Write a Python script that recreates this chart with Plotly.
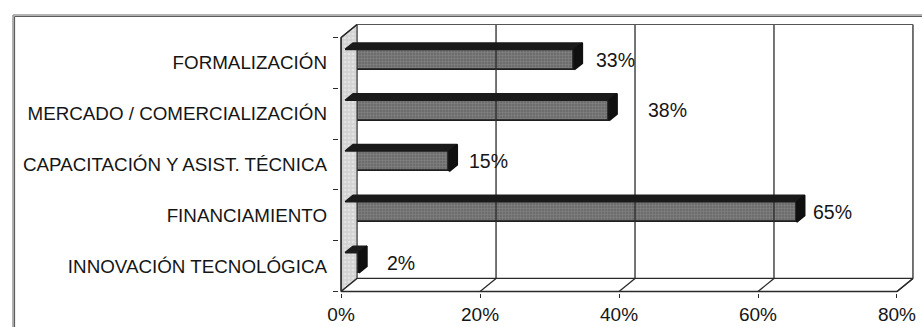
import plotly.graph_objects as go

# Data (bottom to top)
categories = [
    "INNOVACIÓN TECNOLÓGICA",
    "FINANCIAMIENTO",
    "CAPACITACIÓN Y ASIST. TÉCNICA",
    "MERCADO / COMERCIALIZACIÓN",
    "FORMALIZACIÓN",
]
values = [2, 65, 15, 38, 33]
value_labels = ["2%", "65%", "15%", "38%", "33%"]
x_ticks = [0, 20, 40, 60, 80]
x_tick_labels = ["0%", "20%", "40%", "60%", "80%"]

# Extra horizontal nudge (in % units) for each value label, past the bar end
label_nudge = [4.0, 2.3, 2.8, 5.6, 3.1]

# Pseudo-3D geometry in data units
DX, DY = 2.3, 0.256          # depth of the chart box (back wall offset)
BAR_FRONT = 0.25             # fraction of depth where bar front face sits
BAR_BACK = 0.75              # fraction of depth where bar back face sits
BAR_H = 0.40                 # bar thickness in category units
XMAX = 80

LINE = "#2a2a2a"
TEXT = "#151515"
FONT = "Liberation Sans, Arial, sans-serif"

ys = list(range(len(categories)))
fx, fy = DX * BAR_FRONT, DY * BAR_FRONT
bx, by = DX * (BAR_BACK - BAR_FRONT), DY * (BAR_BACK - BAR_FRONT)

fig = go.Figure()


def poly(xs, ys_, fill, line_color=None, width=0, pattern=None):
    kw = dict(
        x=xs + [xs[0]], y=ys_ + [ys_[0]], mode="lines", fill="toself",
        fillcolor=fill, hoverinfo="skip", showlegend=False,
        line=dict(color=line_color or fill, width=width),
    )
    if pattern:
        kw["fillpattern"] = pattern
    fig.add_trace(go.Scatter(**kw))


def seg(x0, y0, x1, y1, color=LINE, width=1.3):
    fig.add_trace(go.Scatter(
        x=[x0, x1], y=[y0, y1], mode="lines", hoverinfo="skip",
        showlegend=False, line=dict(color=color, width=width)))


ybot, ytop = -0.5, len(categories) - 0.5

# Left side wall (textured light gray)
poly([0, DX, DX, 0], [ybot, ybot + DY, ytop + DY, ytop], "#dcdcdc", LINE, 1.2,
     pattern=dict(shape=".", fgcolor="#f4f4f4", bgcolor="#d2d2d2", size=4, solidity=0.35))

# Floor
poly([0, XMAX, XMAX + DX, DX], [ybot, ybot, ybot + DY, ybot + DY], "white", LINE, 1.3)

# Back wall: gridlines, top edge and right edge
for t in x_ticks[1:]:
    seg(t + DX, ybot + DY, t + DX, ytop + DY)
    seg(t, ybot, t + DX, ybot + DY)
seg(DX, ytop + DY, XMAX + DX, ytop + DY, color="#555555")
seg(0, ytop, DX, ytop + DY)
seg(0, ybot, 0, ytop)

# Bars: top and right faces (dark)
for y, v in zip(ys, values):
    x0, x1 = fx, fx + v
    yb, yt = y + fy - BAR_H / 2, y + fy + BAR_H / 2
    poly([x0, x0 + bx, x1 + bx, x1], [yt, yt + by, yt + by, yt], "#1a1a1a", "#1a1a1a", 1.5)
    poly([x1, x1 + bx, x1 + bx, x1], [yb, yb + by, yt + by, yt], "#101010", "#101010", 1.5)

# Bars: front faces (textured gray)
fig.add_trace(go.Bar(
    y=[y + fy for y in ys], x=values, base=[fx] * len(values), orientation="h",
    width=BAR_H, showlegend=False, hoverinfo="skip",
    marker=dict(
        color="#666666", line=dict(color="#1e1e1e", width=1.8),
        pattern=dict(shape=".", fgcolor="#9c9c9c", size=3, solidity=0.5, fillmode="overlay"),
    ),
))

# Value labels
for y, v, lab, n in zip(ys, values, value_labels, label_nudge):
    fig.add_annotation(
        x=fx + v + bx + n - 1.4, y=y + fy, text=lab, showarrow=False,
        xanchor="left", yanchor="middle",
        font=dict(family=FONT, size=19.5, color=TEXT),
    )

# Outer frame of the chart object
W, H = 922, 327
ML, MR, MT, MB = 339, 8, 24, 34
pw, ph = W - ML - MR, H - MT - MB


def px(x):
    return (x - ML) / pw


def py(y):
    return 1 - (y - MT) / ph


for off, col, w in [(0, "#9a9a9a", 1.5), (1.5, "#5c5c5c", 1.2)]:
    fig.add_shape(type="line", xref="paper", yref="paper",
                  x0=px(13 + off), x1=px(W + 5), y0=py(15 + off), y1=py(15 + off),
                  line=dict(color=col, width=w))
    fig.add_shape(type="line", xref="paper", yref="paper",
                  x0=px(13 + off), x1=px(13 + off), y0=py(15 + off), y1=py(H + 5),
                  line=dict(color=col, width=w))

fig.update_layout(
    width=W, height=H,
    margin=dict(l=ML, r=MR, t=MT, b=MB, pad=0, autoexpand=False),
    paper_bgcolor="white", plot_bgcolor="white",
    bargap=0,
    xaxis=dict(
        range=[-0.3, XMAX + DX + 0.15], tickvals=x_ticks, ticktext=x_tick_labels,
        showgrid=False, zeroline=False, showline=False, automargin=False,
        ticks="outside", ticklen=4, tickcolor=LINE, tickwidth=1.3,
        ticklabelstandoff=0,
        tickfont=dict(family=FONT, size=19, color=TEXT),
        fixedrange=True,
    ),
    yaxis=dict(
        range=[-0.53, 4.765], tickvals=ys, ticktext=categories,
        showgrid=False, zeroline=False, showline=False, ticks="", automargin=False,
        ticklabelstandoff=11,
        tickfont=dict(family=FONT, size=18.8, color=TEXT),
        minor=dict(tickvals=[i - 0.5 for i in range(len(categories) + 1)],
                   ticks="outside", ticklen=5, tickcolor=LINE, tickwidth=1.2,
                   showgrid=False),
        fixedrange=True,
    ),
)

fig.write_html("out.html")
